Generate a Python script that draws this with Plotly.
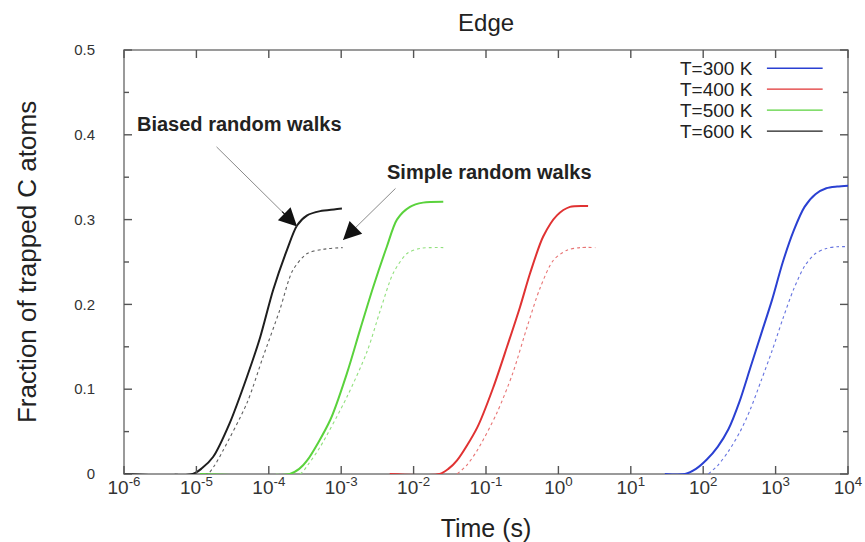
import math
import plotly.graph_objects as go

# ---------------- data (log10 of time in s, fraction of trapped C atoms) ----------------
t600_biased_logt = [-6.0, -5.05, -4.92, -4.77, -4.54, -4.30, -4.12, -3.94, -3.75, -3.61, -3.47, -3.29, -3.10, -2.99]
t600_biased_frac = [0.0, 0.0, 0.007, 0.02, 0.06, 0.115, 0.161, 0.217, 0.264, 0.293, 0.305, 0.310, 0.312, 0.313]
t600_simple_logt = [-5.3, -4.85, -4.75, -4.63, -4.30, -4.08, -3.85, -3.67, -3.47, -3.25, -2.98]
t600_simple_frac = [0.0, 0.0, 0.010, 0.028, 0.084, 0.138, 0.193, 0.240, 0.260, 0.265, 0.267]

t500_biased_logt = [-4.95, -3.71, -3.58, -3.47, -3.15, -2.92, -2.74, -2.56, -2.37, -2.23, -2.05, -1.87, -1.59]
t500_biased_frac = [0.0, 0.0, 0.006, 0.016, 0.064, 0.119, 0.170, 0.220, 0.268, 0.300, 0.315, 0.320, 0.321]
t500_simple_logt = [-3.9, -3.57, -3.45, -3.29, -2.92, -2.64, -2.46, -2.28, -2.09, -1.91, -1.59]
t500_simple_frac = [0.0, 0.0, 0.012, 0.032, 0.091, 0.145, 0.193, 0.237, 0.260, 0.266, 0.267]

t400_biased_logt = [-2.33, -1.64, -1.52, -1.40, -1.12, -0.90, -0.71, -0.53, -0.39, -0.21, -0.02, 0.16, 0.41]
t400_biased_frac = [0.0, 0.0, 0.006, 0.016, 0.055, 0.102, 0.150, 0.197, 0.237, 0.280, 0.305, 0.315, 0.316]
t400_simple_logt = [-1.40, -1.27, -1.12, -0.85, -0.63, -0.43, -0.25, -0.07, 0.12, 0.30, 0.51]
t400_simple_frac = [0.0, 0.010, 0.028, 0.072, 0.119, 0.174, 0.220, 0.252, 0.264, 0.267, 0.267]

t300_biased_logt = [1.47, 1.75, 1.90, 2.05, 2.20, 2.35, 2.50, 2.65, 2.80, 2.95, 3.10, 3.25, 3.40, 3.55, 3.70, 3.85, 4.00]
t300_biased_frac = [0.0, 0.0, 0.006, 0.017, 0.032, 0.053, 0.085, 0.125, 0.165, 0.205, 0.250, 0.287, 0.315, 0.330, 0.337, 0.339, 0.340]
t300_simple_logt = [2.07, 2.20, 2.35, 2.51, 2.65, 2.80, 2.95, 3.10, 3.25, 3.40, 3.55, 3.70, 3.85, 4.00]
t300_simple_frac = [0.0, 0.010, 0.027, 0.050, 0.076, 0.110, 0.145, 0.183, 0.218, 0.245, 0.260, 0.266, 0.268, 0.268]

legend_labels = ["T=300 K", "T=400 K", "T=500 K", "T=600 K"]
series_colors = ["#2a40d2", "#e03232", "#5ad23c", "#1e1e1e"]
simple_colors = ["#6674e0", "#e87474", "#92e07e", "#606060"]

x_tickvals = [1e-6, 1e-5, 1e-4, 1e-3, 1e-2, 1e-1, 1e0, 1e1, 1e2, 1e3, 1e4]
x_ticktext = ["10<sup>-6</sup>", "10<sup>-5</sup>", "10<sup>-4</sup>", "10<sup>-3</sup>",
              "10<sup>-2</sup>", "10<sup>-1</sup>", "10<sup>0</sup>", "10<sup>1</sup>",
              "10<sup>2</sup>", "10<sup>3</sup>", "10<sup>4</sup>"]
y_tickvals = [0, 0.1, 0.2, 0.3, 0.4, 0.5]
y_ticktext = ["0", "0.1", "0.2", "0.3", "0.4", "0.5"]
y_minor_tickvals = [0.05, 0.15, 0.25, 0.35, 0.45]

X_RANGE = [-6, 4]      # log10 decades
Y_RANGE = [0, 0.5]
PLOT_W, PLOT_H = 724, 424   # plotting-area size in px (figure minus margins)

biased = [(t300_biased_logt, t300_biased_frac), (t400_biased_logt, t400_biased_frac),
          (t500_biased_logt, t500_biased_frac), (t600_biased_logt, t600_biased_frac)]
simple = [(t300_simple_logt, t300_simple_frac), (t400_simple_logt, t400_simple_frac),
          (t500_simple_logt, t500_simple_frac), (t600_simple_logt, t600_simple_frac)]

FONT = "Liberation Sans, Arial, sans-serif"
TICK = dict(color="#555", width=1.4)

fig = go.Figure()
for i, lab in enumerate(legend_labels):
    lx, fy = simple[i]
    fig.add_trace(go.Scatter(x=[10 ** v for v in lx], y=fy, mode="lines",
                             name=lab + " simple", showlegend=False,
                             line=dict(color=simple_colors[i], width=1.1, dash="dot",
                                       shape="spline", smoothing=0.8)))
    lx, fy = biased[i]
    fig.add_trace(go.Scatter(x=[10 ** v for v in lx], y=fy, mode="lines",
                             name=lab, showlegend=False,
                             line=dict(color=series_colors[i], width=2,
                                       shape="spline", smoothing=0.8)))

# ---- inward tick marks (paper-referenced, positioned from the axis tick values) ----
def x_to_paper(v):
    return (math.log10(v) - X_RANGE[0]) / (X_RANGE[1] - X_RANGE[0])

def y_to_paper(v):
    return (v - Y_RANGE[0]) / (Y_RANGE[1] - Y_RANGE[0])

xt_len = 8 / PLOT_H
for v in x_tickvals:
    px = x_to_paper(v)
    fig.add_shape(type="line", xref="paper", yref="paper", x0=px, x1=px, y0=0, y1=xt_len,
                  line=TICK, layer="above")
    fig.add_shape(type="line", xref="paper", yref="paper", x0=px, x1=px, y0=1, y1=1 - xt_len,
                  line=TICK, layer="above")
for vals, lpx in [(y_tickvals, 8), (y_minor_tickvals, 5)]:
    ln = lpx / PLOT_W
    for v in vals:
        py = y_to_paper(v)
        fig.add_shape(type="line", xref="paper", yref="paper", x0=0, x1=ln, y0=py, y1=py,
                      line=TICK, layer="above")
        fig.add_shape(type="line", xref="paper", yref="paper", x0=1, x1=1 - ln, y0=py, y1=py,
                      line=TICK, layer="above")

# legend: text on the left, line sample on the right (as in the reference)
for i, lab in enumerate(legend_labels):
    yp = 0.957 - i * 0.0495
    fig.add_annotation(xref="paper", yref="paper", x=0.872, y=yp, text=lab,
                       showarrow=False, xanchor="right", yanchor="middle",
                       font=dict(family=FONT, size=19, color="#222"))
    fig.add_shape(type="line", xref="paper", yref="paper",
                  x0=0.888, x1=0.965, y0=yp, y1=yp,
                  line=dict(color=series_colors[i], width=1.3))

# frame around the plotting area (drawn below the curves)
fig.add_shape(type="rect", xref="paper", yref="paper", x0=0, x1=1, y0=0, y1=1,
              line=dict(color="#7a7a7a", width=1.5), layer="below")

# text annotations
fig.add_annotation(xref="paper", yref="paper", x=0.160, y=0.825, xanchor="center",
                   yanchor="middle", text="<b>Biased random walks</b>", showarrow=False,
                   font=dict(family=FONT, size=20, color="#222"))
fig.add_annotation(xref="paper", yref="paper", x=0.505, y=0.712, xanchor="center",
                   yanchor="middle", text="<b>Simple random walks</b>", showarrow=False,
                   font=dict(family=FONT, size=20, color="#222"))

# arrows: grey shaft + black head (x given as log10 for log axis)
for tip_x, tip_y, ax, ay in [(-3.61, 0.292, -82, -81), (-2.975, 0.276, 54, -53)]:
    fig.add_annotation(x=tip_x, y=tip_y, xref="x", yref="y", text="", showarrow=True,
                       ax=ax, ay=ay, arrowhead=0, arrowwidth=1, arrowcolor="#8a8a8a")
    fig.add_annotation(x=tip_x, y=tip_y, xref="x", yref="y", text="", showarrow=True,
                       ax=ax * 0.2, ay=ay * 0.2, arrowhead=2, arrowsize=3,
                       arrowwidth=1.2, arrowcolor="#111")

fig.update_layout(
    width=865, height=542,
    margin=dict(l=124, r=17, t=50, b=68, autoexpand=False),
    paper_bgcolor="white", plot_bgcolor="white",
    font=dict(family=FONT, color="#222"),
    title=dict(text="Edge", x=0.562, xref="container", xanchor="center",
               y=0.958, yanchor="middle", font=dict(family=FONT, size=24, color="#222")),
)
fig.update_xaxes(type="log", range=X_RANGE, tickmode="array", tickvals=x_tickvals,
                 ticktext=x_ticktext, ticks="", showline=False, automargin=False,
                 showgrid=False, zeroline=False,
                 tickfont=dict(family=FONT, size=19, color="#333"),
                 title=dict(text="Time (s)", font=dict(family=FONT, size=25, color="#222"),
                            standoff=22))
fig.update_yaxes(range=Y_RANGE, tickmode="array", tickvals=y_tickvals, ticktext=y_ticktext,
                 ticks="", showline=False, automargin=False, showgrid=False,
                 zeroline=False, ticklabelstandoff=28,
                 tickfont=dict(family=FONT, size=15, color="#333"),
                 title=dict(text="Fraction of trapped C atoms",
                            font=dict(family=FONT, size=26, color="#222"), standoff=30))

fig.write_html("out.html")
